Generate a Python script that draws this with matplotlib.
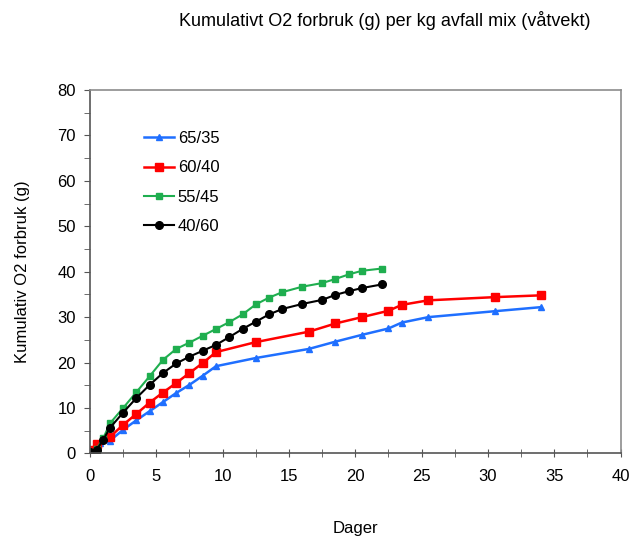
import matplotlib.pyplot as plt
from matplotlib.ticker import MultipleLocator

plt.rcParams['font.family'] = ['Liberation Sans', 'DejaVu Sans']

# dager og kumulativt O2-forbruk per blanding
dager_6535 = [0, 0.75, 1.5, 2.5, 3.5, 4.5, 5.5, 6.5, 7.5, 8.5, 9.5, 12.5,
              16.5, 18.5, 20.5, 22.5, 23.5, 25.5, 30.5, 34]
o2_6535 = [0.4, 2.2, 2.8, 5.2, 7.3, 9.3, 11.3, 13.3, 15.1, 17.1, 19.2, 21.0,
           23.0, 24.6, 26.1, 27.5, 28.8, 30.0, 31.3, 32.2]

dager_6040 = [0, 0.5, 1.5, 2.5, 3.5, 4.5, 5.5, 6.5, 7.5, 8.5, 9.5, 12.5,
              16.5, 18.5, 20.5, 22.5, 23.5, 25.5, 30.5, 34]
o2_6040 = [0.8, 2.0, 3.6, 6.3, 8.7, 11.2, 13.4, 15.5, 17.7, 19.9, 22.3, 24.5,
           26.8, 28.6, 30.0, 31.4, 32.7, 33.7, 34.4, 34.8]

dager_5545 = [0, 0.5, 1, 1.5, 2.5, 3.5, 4.5, 5.5, 6.5, 7.5, 8.5, 9.5, 10.5,
              11.5, 12.5, 13.5, 14.5, 16, 17.5, 18.5, 19.5, 20.5, 22]
o2_5545 = [0.3, 1.0, 3.3, 6.6, 10.0, 13.5, 17.0, 20.6, 23.0, 24.4, 25.9, 27.4,
           28.9, 30.6, 32.8, 34.3, 35.5, 36.7, 37.5, 38.4, 39.4, 40.2, 40.7]

dager_4060 = [0, 0.5, 1, 1.5, 2.5, 3.5, 4.5, 5.5, 6.5, 7.5, 8.5, 9.5, 10.5,
              11.5, 12.5, 13.5, 14.5, 16, 17.5, 18.5, 19.5, 20.5, 22]
o2_4060 = [0.3, 0.8, 3.0, 5.6, 9.0, 12.2, 15.1, 17.7, 19.8, 21.3, 22.6, 23.9,
           25.6, 27.4, 29.0, 30.6, 31.8, 32.9, 33.8, 34.9, 35.7, 36.4, 37.2]

fig = plt.figure(figsize=(6.31, 5.39), dpi=100)
ax = fig.add_axes([0.1426, 0.1588, 0.841, 0.6742])

ax.plot(dager_6535, o2_6535, color='#1f6fff', marker='^', markersize=4,
        linewidth=1.8, label='65/35')
ax.plot(dager_6040, o2_6040, color='#ff0000', marker='s', markersize=6,
        linewidth=1.8, label='60/40')
ax.plot(dager_5545, o2_5545, color='#1fae4f', marker='s', markersize=4.5,
        linewidth=1.5, label='55/45')
ax.plot(dager_4060, o2_4060, color='black', marker='o', markersize=5.5,
        linewidth=1.5, label='40/60')

ax.set_xlim(0, 40)
ax.set_ylim(0, 80)
ax.xaxis.set_major_locator(MultipleLocator(5))
ax.xaxis.set_minor_locator(MultipleLocator(2.5))
ax.yaxis.set_major_locator(MultipleLocator(10))
ax.yaxis.set_minor_locator(MultipleLocator(5))

for s in ax.spines.values():
    s.set_color('#8c8c8c')
    s.set_linewidth(1.2)
ax.spines['left'].set_color('#555555')
ax.spines['bottom'].set_color('#555555')

ax.tick_params(axis='both', which='both', colors='#555555', labelcolor='black',
               labelsize=12)
ax.tick_params(axis='x', which='both', direction='inout', length=6, pad=8)
ax.tick_params(axis='y', which='both', direction='out', length=4, pad=6)

ax.set_xlabel('Dager', fontsize=12)
ax.xaxis.set_label_coords(0.5, -0.185)
ax.set_ylabel('Kumulativ O2 forbruk (g)', fontsize=12, labelpad=20)
fig.text(0.61, 0.962, 'Kumulativt O2 forbruk (g) per kg avfall mix (våtvekt)',
         ha='center', va='center', fontsize=13)

ax.legend(loc='upper left', bbox_to_anchor=(0.09, 0.905), frameon=False,
          fontsize=12, handlelength=1.8, handletextpad=0.2, labelspacing=0.85,
          borderaxespad=0)

plt.savefig('out.png', dpi=100)
